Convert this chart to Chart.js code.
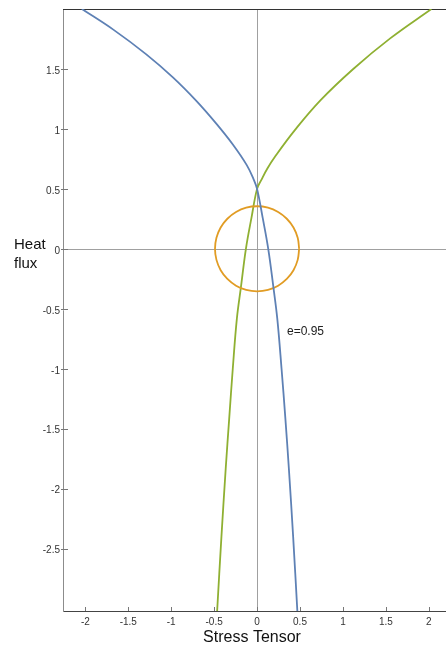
<!DOCTYPE html>
<html>
<head>
<meta charset="utf-8">
<script src="https://cdn.jsdelivr.net/npm/chart.js@4"></script>
<style>
  body { margin: 0; background: #fff; }
  #wrap { width: 446px; height: 648px; position: relative; }
</style>
</head>
<body>
<div id="wrap"><canvas id="chart"></canvas></div>
<script>
const FONT = "'Liberation Sans', Arial, sans-serif";

const X_MIN = -2.26;
const X_MAX = 2.2;
const Y_MIN = -3.02;
const Y_MAX = 2.0;

const xTicks = [-2, -1.5, -1, -0.5, 0, 0.5, 1, 1.5, 2];
const yTicks = [-2.5, -2, -1.5, -1, -0.5, 0, 0.5, 1, 1.5];

// blue curve
const blueX = [-2.04, -1.67, -1.29, -0.98, -0.71, -0.47, -0.28, -0.12, -0.04, 0, 0.065, 0.13, 0.19, 0.235, 0.285, 0.33, 0.37, 0.42, 0.469];
const blueY = [2.0, 1.826, 1.622, 1.43, 1.236, 1.04, 0.868, 0.698, 0.58, 0.5, 0.26, 0.0, -0.32, -0.58, -1.0, -1.42, -1.83, -2.4, -3.02];

// green curve
const greenX = [-0.465, -0.415, -0.365, -0.325, -0.283, -0.235, -0.188, -0.13, -0.065, 0, 0.05, 0.12, 0.21, 0.44, 0.74, 1.12, 1.55, 2.03];
const greenY = [-3.02, -2.4, -1.83, -1.42, -1.0, -0.58, -0.32, 0.0, 0.26, 0.5, 0.575, 0.67, 0.77, 0.99, 1.24, 1.5, 1.755, 2.0];

// orange ring round the origin
const ringX = [0.49, 0.473, 0.424, 0.346, 0.245, 0.127, 0, -0.127, -0.245, -0.346, -0.424, -0.473, -0.49,
               -0.473, -0.424, -0.346, -0.245, -0.127, 0, 0.127, 0.245, 0.346, 0.424, 0.473, 0.49];
const ringY = [0, 0.092, 0.178, 0.251, 0.307, 0.343, 0.355, 0.343, 0.307, 0.251, 0.178, 0.092, 0,
               -0.092, -0.178, -0.251, -0.307, -0.343, -0.355, -0.343, -0.307, -0.251, -0.178, -0.092, 0];

function toPoints(xs, ys) {
  return xs.map((x, i) => ({ x: x, y: ys[i] }));
}

const framePlugin = {
  id: "frame",
  beforeDatasetsDraw(chart) {
    const { ctx, chartArea: a, scales } = chart;
    const x = scales.x;
    const y = scales.y;
    ctx.save();
    ctx.lineWidth = 1;

    // axes through the origin
    ctx.strokeStyle = "#a0a0a0";
    const x0 = Math.round(x.getPixelForValue(0)) + 0.5;
    const y0 = Math.round(y.getPixelForValue(0)) + 0.5;
    ctx.beginPath();
    ctx.moveTo(x0, a.top);
    ctx.lineTo(x0, a.bottom);
    ctx.moveTo(a.left, y0);
    ctx.lineTo(a.right, y0);
    ctx.stroke();

    // tick marks
    ctx.strokeStyle = "#777";
    ctx.beginPath();
    xTicks.forEach((v) => {
      const p = Math.round(x.getPixelForValue(v)) + 0.5;
      ctx.moveTo(p, a.bottom);
      ctx.lineTo(p, a.bottom - 4);
    });
    yTicks.forEach((v) => {
      const p = Math.round(y.getPixelForValue(v)) + 0.5;
      ctx.moveTo(a.left - 2, p);
      ctx.lineTo(a.left + 5, p);
    });
    ctx.stroke();

    // top edge
    ctx.strokeStyle = "#333";
    ctx.beginPath();
    ctx.moveTo(a.left, a.top + 0.5);
    ctx.lineTo(a.right, a.top + 0.5);
    ctx.stroke();
    ctx.restore();
  },
  afterDraw(chart) {
    const { ctx } = chart;
    ctx.save();
    ctx.fillStyle = "#111";
    ctx.textBaseline = "middle";

    ctx.font = "15px " + FONT;
    ctx.textAlign = "left";
    ctx.fillText("Heat", 14, 245);
    ctx.fillText("flux", 14, 264);

    ctx.font = "16px " + FONT;
    ctx.textAlign = "center";
    ctx.fillText("Stress Tensor", 252, 638);

    ctx.font = "12px " + FONT;
    ctx.textAlign = "left";
    ctx.fillStyle = "#222";
    ctx.fillText("e=0.95", 287, 332);
    ctx.restore();
  },
};

new Chart(document.getElementById("chart"), {
  type: "line",
  data: {
    datasets: [
      {
        label: "blue",
        data: toPoints(blueX, blueY),
        borderColor: "#5e81b5",
        borderWidth: 1.8,
        pointRadius: 0,
        tension: 0.4,
        fill: false,
      },
      {
        label: "ring",
        data: toPoints(ringX, ringY),
        borderColor: "#e19c24",
        borderWidth: 1.8,
        pointRadius: 0,
        tension: 0.4,
        fill: false,
      },
      {
        label: "green",
        data: toPoints(greenX, greenY),
        borderColor: "#8fb032",
        borderWidth: 1.8,
        pointRadius: 0,
        tension: 0.4,
        fill: false,
      },
    ],
  },
  options: {
    responsive: true,
    maintainAspectRatio: false,
    animation: false,
    layout: {
      padding: { top: 9, right: 0, left: 0, bottom: 0 },
    },
    scales: {
      x: {
        type: "linear",
        min: X_MIN,
        max: X_MAX,
        afterBuildTicks: (scale) => {
          scale.ticks = xTicks.map((v) => ({ value: v }));
        },
        afterFit: (scale) => {
          scale.height = 37;
        },
        grid: { display: false, drawTicks: false },
        border: { display: true, color: "#444", width: 1 },
        ticks: {
          color: "#333",
          padding: 5,
          maxRotation: 0,
          font: { family: FONT, size: 10 },
          callback: (v) => String(v),
        },
      },
      y: {
        type: "linear",
        min: Y_MIN,
        max: Y_MAX,
        afterBuildTicks: (scale) => {
          scale.ticks = yTicks.map((v) => ({ value: v }));
        },
        afterFit: (scale) => {
          scale.width = 63;
        },
        grid: { display: false, drawTicks: false },
        border: { display: true, color: "#8c8c8c", width: 1 },
        ticks: {
          color: "#333",
          padding: 3,
          labelOffset: 2,
          font: { family: FONT, size: 10 },
          callback: (v) => String(v),
        },
      },
    },
    plugins: {
      legend: { display: false },
      tooltip: { enabled: false },
    },
  },
  plugins: [framePlugin],
});
</script>
</body>
</html>
